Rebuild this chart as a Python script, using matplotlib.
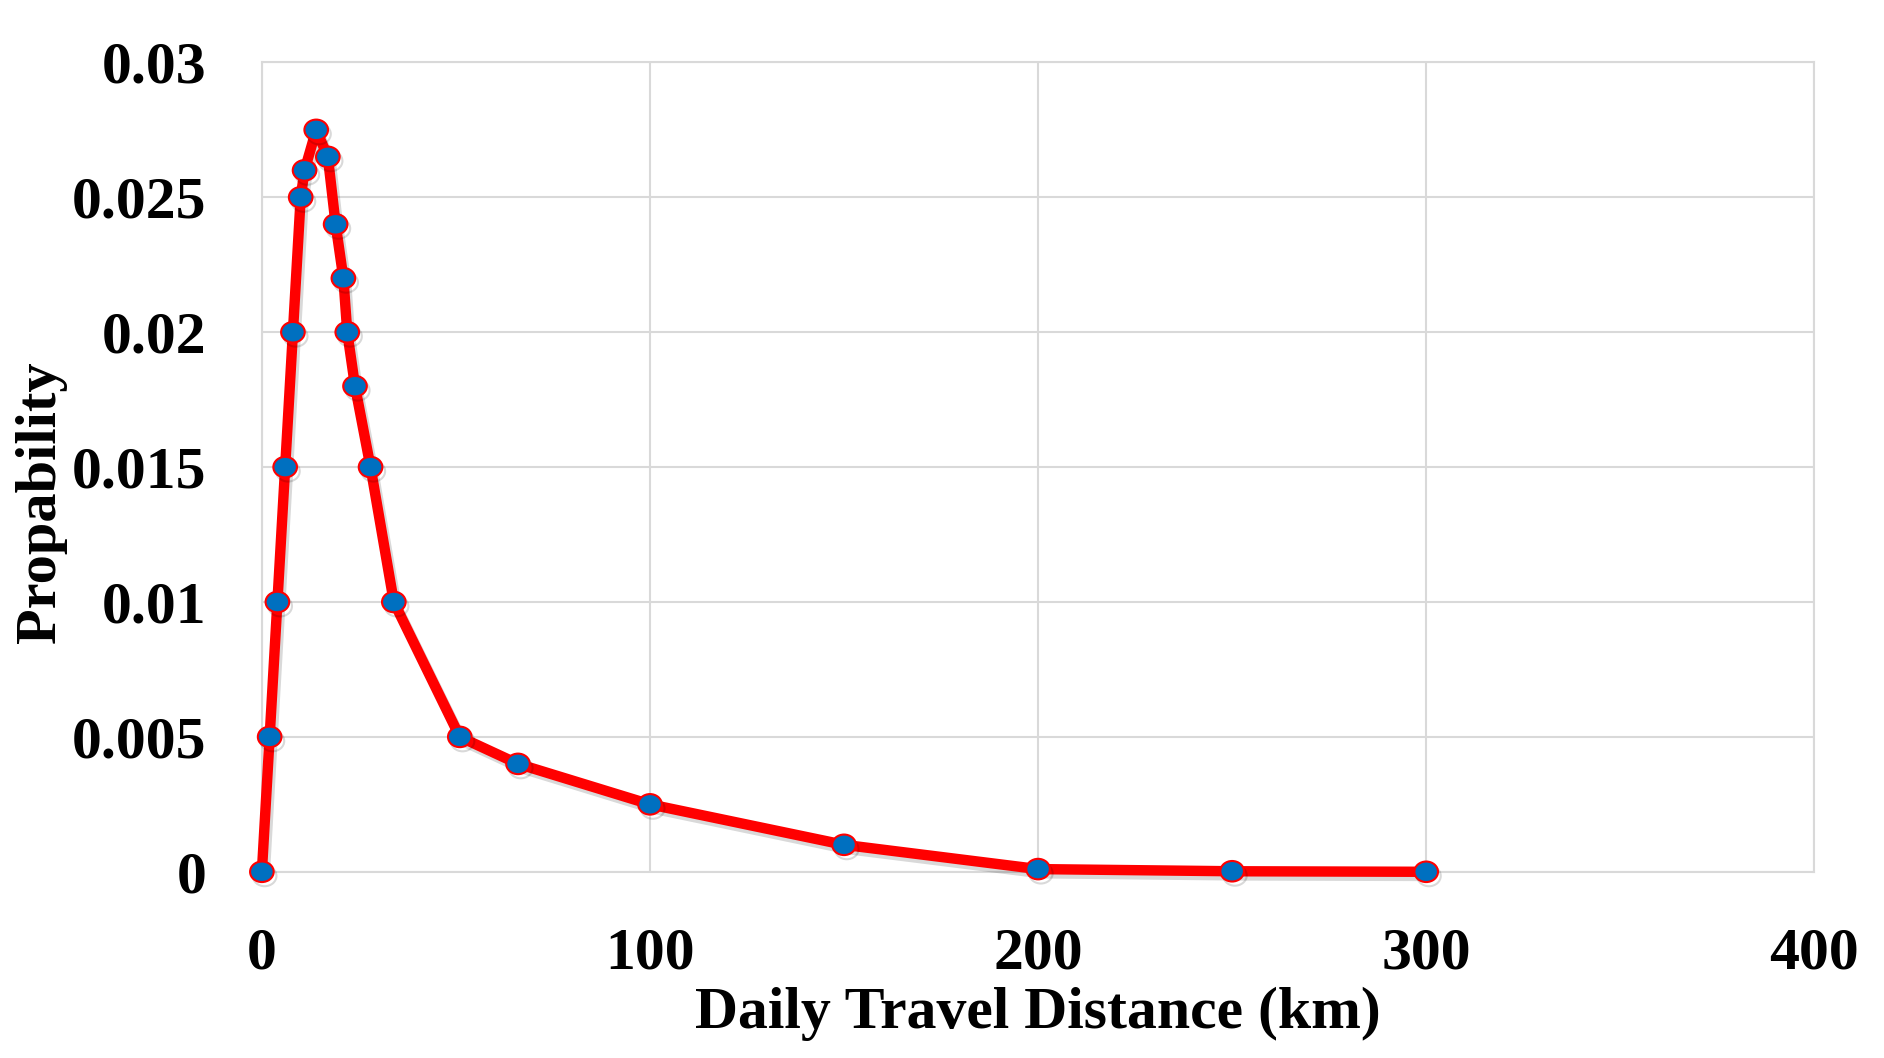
import numpy as np
import matplotlib
matplotlib.use('Agg')
import matplotlib.pyplot as plt
import matplotlib.patheffects as pe
from matplotlib.path import Path
from matplotlib.transforms import Affine2D

# data
distance_km = [0, 2, 4, 6, 8, 10, 11, 14, 17, 19, 21, 22, 24, 28, 34, 51, 66,
               100, 150, 200, 250, 300]
probability = [0, 0.005, 0.01, 0.015, 0.02, 0.025, 0.026, 0.0275, 0.0265,
               0.024, 0.022, 0.02, 0.018, 0.015, 0.01, 0.005, 0.004,
               0.0025, 0.001, 0.0001, 0.00002, 0]
x_ticks = [0, 100, 200, 300, 400]
y_ticks = [0, 0.005, 0.01, 0.015, 0.02, 0.025, 0.03]
y_tick_labels = ['0', '0.005', '0.01', '0.015', '0.02', '0.025', '0.03']

plt.rcParams['font.family'] = ['Liberation Serif', 'DejaVu Serif']
plt.rcParams['font.weight'] = 'bold'

fig = plt.figure(figsize=(18.84, 10.58), dpi=100)
ax = fig.add_axes([0.139, 0.176, 0.824, 0.765])

# slightly wide ellipse marker, like the original
ellipse = Path.unit_circle().transformed(Affine2D().scale(1.15, 1.0))

ax.plot(distance_km, probability, color='#ff0000', linewidth=7.5,
        marker=ellipse, markersize=17, markerfacecolor='#0070c0',
        markeredgecolor='#ff0000', markeredgewidth=1.5, zorder=3,
        clip_on=False,
        path_effects=[pe.SimpleLineShadow(offset=(2, -3), shadow_color='black',
                                          alpha=0.15), pe.Normal()])

ax.set_xlim(0, 400)
ax.set_ylim(0, 0.03)
ax.set_xticks(x_ticks)
ax.set_yticks(y_ticks)
ax.set_yticklabels(y_tick_labels)
ax.tick_params(axis='both', length=0, labelsize=43)
ax.tick_params(axis='x', pad=40)
ax.tick_params(axis='y', pad=40)
for lab in ax.get_xticklabels() + ax.get_yticklabels():
    lab.set_fontweight('bold')

ax.grid(True, color='#d9d9d9', linewidth=1.5)
ax.set_axisbelow(True)
for sp in ax.spines.values():
    sp.set_color('#d9d9d9')
    sp.set_linewidth(1.5)

ax.set_xlabel('Daily Travel Distance (km)', fontsize=43, fontweight='bold', va='center')
ax.set_ylabel('Propability', fontsize=42, fontweight='bold', va='center')
ax.xaxis.set_label_coords(0.5, -0.175)
ax.yaxis.set_label_coords(-0.142, 0.457)

fig.savefig('out.png', dpi=100)
plt.close(fig)
